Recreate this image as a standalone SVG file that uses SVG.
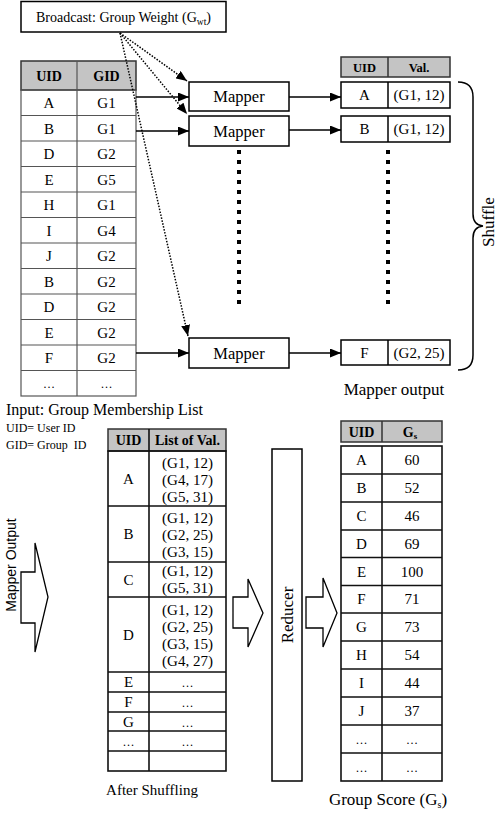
<svg xmlns="http://www.w3.org/2000/svg" width="498" height="814" viewBox="0 0 498 814">
<style>
.t{font-family:"Liberation Serif","Times New Roman",serif;font-size:15px;fill:#000;text-anchor:middle}
.h{font-weight:bold;font-size:14px}
.l{text-anchor:start}
.s{font-family:"Liberation Sans",Arial,sans-serif;font-size:14px;fill:#000;text-anchor:middle}
.box{fill:#fff;stroke:#000;stroke-width:1.5}
.thin{fill:none;stroke:#555;stroke-width:1.2}
.thick{fill:none;stroke:#111;stroke-width:1.6}
.hd{fill:#c4c4c4;stroke:#333;stroke-width:1.5}
.arr{fill:none;stroke:#000;stroke-width:1.3;marker-end:url(#ah)}
.dot{fill:none;stroke:#000;stroke-width:1.5;stroke-dasharray:1.5 1.5;marker-end:url(#ah)}
.sq{fill:none;stroke:#000;stroke-width:4;stroke-dasharray:4 6}
</style>
<defs>
<marker id="ah" markerUnits="userSpaceOnUse" markerWidth="11" markerHeight="9" refX="11" refY="4.5" orient="auto">
<path d="M0,0 L11,4.5 L0,9 z" fill="#000"/>
</marker>
</defs>

<g id="broadcast">
<rect x="21" y="1.5" width="205" height="30.5" class="box"/>
<text x="123.5" y="22" class="t" style="font-size:14px">Broadcast: Group Weight (G<tspan font-size="9.5" dy="2.5">wt</tspan><tspan dy="-2.5">)</tspan></text>
</g>

<g id="input-table">
<rect x="21" y="61" width="115" height="29" class="hd"/>
<rect x="21" y="90" width="115" height="306" class="thin"/>
<line x1="77" y1="61" x2="77" y2="396" class="thin"/>
<path class="thin" d="M21,115.5H136M21,141H136M21,166.5H136M21,192H136M21,217.5H136M21,243H136M21,268.5H136M21,294H136M21,319.5H136M21,345H136M21,370.5H136"/>
<text x="49" y="80.5" class="t h">UID</text><text x="106.5" y="80.5" class="t h">GID</text>
<text x="49" y="108" class="t">A</text><text x="106.5" y="108" class="t">G1</text>
<text x="49" y="133.5" class="t">B</text><text x="106.5" y="133.5" class="t">G1</text>
<text x="49" y="159" class="t">D</text><text x="106.5" y="159" class="t">G2</text>
<text x="49" y="184.5" class="t">E</text><text x="106.5" y="184.5" class="t">G5</text>
<text x="49" y="210" class="t">H</text><text x="106.5" y="210" class="t">G1</text>
<text x="49" y="235.5" class="t">I</text><text x="106.5" y="235.5" class="t">G4</text>
<text x="49" y="261" class="t">J</text><text x="106.5" y="261" class="t">G2</text>
<text x="49" y="286.5" class="t">B</text><text x="106.5" y="286.5" class="t">G2</text>
<text x="49" y="312" class="t">D</text><text x="106.5" y="312" class="t">G2</text>
<text x="49" y="337.5" class="t">E</text><text x="106.5" y="337.5" class="t">G2</text>
<text x="49" y="363" class="t">F</text><text x="106.5" y="363" class="t">G2</text>
<text x="49" y="388" class="t" style="font-size:12px">…</text><text x="106.5" y="388" class="t" style="font-size:12px">…</text>
</g>

<g id="input-labels">
<text x="6" y="415" class="t l" style="font-size:16px">Input: Group Membership List</text>
<text x="6" y="432" class="t l" style="font-size:12px">UID= User ID</text>
<text x="6" y="449" class="t l" style="font-size:12px" xml:space="preserve">GID= Group  ID</text>
</g>

<g id="mapper1">
<rect x="189" y="82" width="100" height="29" class="box"/>
<text x="239" y="102" class="t" style="font-size:16.5px">Mapper</text>
</g>
<g id="mapper2">
<rect x="189" y="116" width="100" height="30" class="box"/>
<text x="239" y="136.5" class="t" style="font-size:16.5px">Mapper</text>
</g>
<g id="mapper3">
<rect x="189" y="338" width="100" height="30" class="box"/>
<text x="239" y="358.5" class="t" style="font-size:16.5px">Mapper</text>
</g>
<g id="mapper-dots">
<line x1="239" y1="150" x2="239" y2="306" class="sq"/>
<line x1="388" y1="150" x2="388" y2="306" class="sq"/>
</g>

<g id="mapper-output">
<rect x="341" y="57" width="109" height="20" class="hd"/>
<line x1="388" y1="57" x2="388" y2="77" stroke="#333" stroke-width="1.5"/>
<text x="364.5" y="71.5" class="t h" style="font-size:12.5px">UID</text><text x="419" y="71.5" class="t h" style="font-size:12.5px">Val.</text>
<rect x="341" y="82" width="109" height="26" class="box"/>
<line x1="388" y1="82" x2="388" y2="108" stroke="#000" stroke-width="1.5"/>
<text x="364.5" y="100" class="t">A</text><text x="419" y="100" class="t">(G1, 12)</text>
<rect x="341" y="116" width="109" height="26" class="box"/>
<line x1="388" y1="116" x2="388" y2="142" stroke="#000" stroke-width="1.5"/>
<text x="364.5" y="134" class="t">B</text><text x="419" y="134" class="t">(G1, 12)</text>
<rect x="341" y="340" width="109" height="25" class="box"/>
<line x1="388" y1="340" x2="388" y2="365" stroke="#000" stroke-width="1.5"/>
<text x="364.5" y="357.5" class="t">F</text><text x="419" y="357.5" class="t">(G2, 25)</text>
<text x="394" y="395" class="t" style="font-size:17px">Mapper output</text>
</g>

<g id="shuffle">
<path d="M458,82 Q473,82 473,97 L473,214 Q473,225 483,226 Q473,227 473,238 L473,355 Q473,370 458,370" fill="none" stroke="#000" stroke-width="1.5"/>
<text transform="translate(494,222) rotate(-90)" class="t" style="font-size:17px">Shuffle</text>
</g>

<g id="connectors">
<line x1="136" y1="97" x2="189" y2="97" class="arr"/>
<line x1="136" y1="131" x2="189" y2="131" class="arr"/>
<line x1="136" y1="353" x2="189" y2="353" class="arr"/>
<line x1="289" y1="97" x2="341" y2="97" class="arr"/>
<line x1="289" y1="130" x2="341" y2="130" class="arr"/>
<line x1="289" y1="353" x2="341" y2="353" class="arr"/>
<line x1="120" y1="33" x2="187" y2="81" class="dot"/>
<line x1="120" y1="33" x2="187" y2="114" class="dot"/>
<line x1="120" y1="33" x2="188" y2="336" class="dot"/>
</g>

<g id="mapper-output-arrow">
<text transform="translate(16,565) rotate(-90)" class="s">Mapper Output</text>
<polygon points="21,572 35,572 35,543 48,597 35,652 35,623 21,623" fill="#fff" stroke="#000" stroke-width="1.3"/>
</g>

<g id="shuffled-table">
<rect x="108" y="429" width="118" height="22" class="hd"/>
<rect x="108" y="451" width="118" height="320" class="thick"/>
<line x1="149" y1="429" x2="149" y2="771" class="thick"/>
<path class="thick" d="M108,506H226M108,562H226M108,597H226M108,672H226M108,692H226M108,712H226M108,731H226M108,751H226"/>
<text x="128.5" y="445" class="t h">UID</text><text x="187.5" y="445" class="t h">List of Val.</text>
<text x="128.5" y="484" class="t">A</text>
<text x="187.5" y="468" class="t">(G1, 12)</text><text x="187.5" y="485" class="t">(G4, 17)</text><text x="187.5" y="502" class="t">(G5, 31)</text>
<text x="128.5" y="539" class="t">B</text>
<text x="187.5" y="523" class="t">(G1, 12)</text><text x="187.5" y="540" class="t">(G2, 25)</text><text x="187.5" y="557" class="t">(G3, 15)</text>
<text x="128.5" y="585" class="t">C</text>
<text x="187.5" y="576" class="t">(G1, 12)</text><text x="187.5" y="593" class="t">(G5, 31)</text>
<text x="128.5" y="640" class="t">D</text>
<text x="187.5" y="615" class="t">(G1, 12)</text><text x="187.5" y="632" class="t">(G2, 25)</text><text x="187.5" y="649" class="t">(G3, 15)</text><text x="187.5" y="666" class="t">(G4, 27)</text>
<text x="128.5" y="687" class="t">E</text><text x="187.5" y="687" class="t" style="font-size:12px">…</text>
<text x="128.5" y="707" class="t">F</text><text x="187.5" y="707" class="t" style="font-size:12px">…</text>
<text x="128.5" y="726.5" class="t">G</text><text x="187.5" y="726.5" class="t" style="font-size:12px">…</text>
<text x="128.5" y="746" class="t" style="font-size:12px">…</text><text x="187.5" y="746" class="t" style="font-size:12px">…</text>
<text x="152" y="795" class="t">After Shuffling</text>
</g>

<g id="arrow-to-reducer">
<polygon points="233,597 248,597 248,579 263,613 248,647 248,628 233,628" fill="#fff" stroke="#000" stroke-width="1.3"/>
</g>

<g id="reducer">
<rect x="272" y="449" width="30" height="332" class="box"/>
<text transform="translate(293,615) rotate(-90)" class="t" style="font-size:17px">Reducer</text>
</g>

<g id="arrow-from-reducer">
<polygon points="306,597 323,597 323,578 337,613 323,647 323,628 306,628" fill="#fff" stroke="#000" stroke-width="1.3"/>
</g>

<g id="group-score">
<rect x="341" y="421" width="101" height="21" class="hd"/>
<line x1="382" y1="421" x2="382" y2="442" stroke="#333" stroke-width="1.5"/>
<text x="361.5" y="436.5" class="t h">UID</text><text x="410" y="436.5" class="t h">G<tspan font-size="9" dy="2">s</tspan></text>
<rect x="341" y="446" width="101" height="335" class="thick"/>
<line x1="382" y1="446" x2="382" y2="781" class="thick"/>
<path class="thick" d="M341,474H442M341,502H442M341,530H442M341,557.5H442M341,585.5H442M341,613H442M341,641H442M341,669H442M341,697H442M341,725H442M341,753H442"/>
<text x="361.5" y="465" class="t">A</text><text x="412" y="465" class="t">60</text>
<text x="361.5" y="493" class="t">B</text><text x="412" y="493" class="t">52</text>
<text x="361.5" y="521" class="t">C</text><text x="412" y="521" class="t">46</text>
<text x="361.5" y="549" class="t">D</text><text x="412" y="549" class="t">69</text>
<text x="361.5" y="576.5" class="t">E</text><text x="412" y="576.5" class="t">100</text>
<text x="361.5" y="604" class="t">F</text><text x="412" y="604" class="t">71</text>
<text x="361.5" y="632" class="t">G</text><text x="412" y="632" class="t">73</text>
<text x="361.5" y="660" class="t">H</text><text x="412" y="660" class="t">54</text>
<text x="361.5" y="688" class="t">I</text><text x="412" y="688" class="t">44</text>
<text x="361.5" y="716" class="t">J</text><text x="412" y="716" class="t">37</text>
<text x="361.5" y="744" class="t" style="font-size:12px">…</text><text x="412" y="744" class="t" style="font-size:12px">…</text>
<text x="361.5" y="772" class="t" style="font-size:12px">…</text><text x="412" y="772" class="t" style="font-size:12px">…</text>
<text x="388" y="805" class="t" style="font-size:17px">Group Score (G<tspan font-size="10" dy="3">s</tspan><tspan dy="-3">)</tspan></text>
</g>
</svg>
